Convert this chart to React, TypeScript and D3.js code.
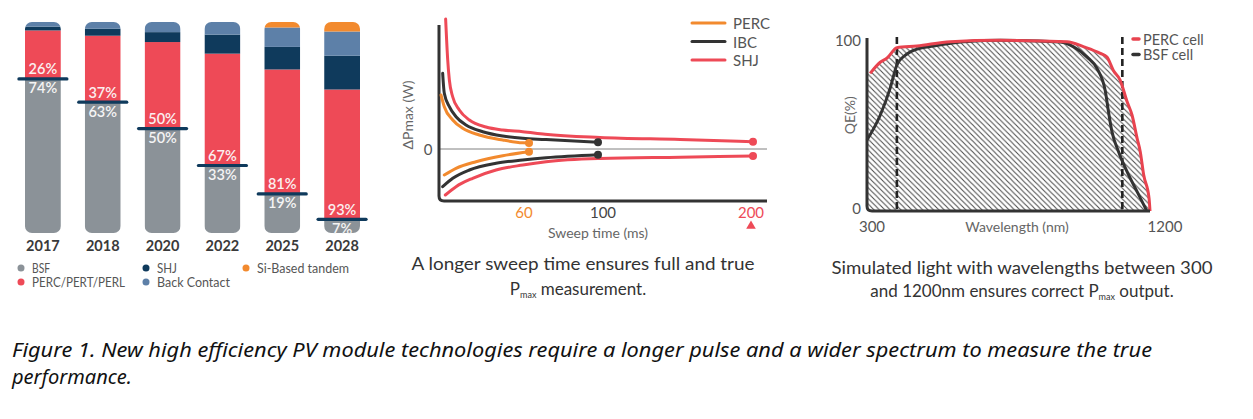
import React from "react";
import * as d3 from "d3";

// ---------- Panel 1: technology market share ----------
const years = ["2017", "2018", "2020", "2022", "2025", "2028"];
const bsf = [73, 62, 49.5, 32, 18.5, 6.5];
const perc = [23, 31.5, 41, 53, 59, 61.5];
const shj = [1.8, 3.3, 4.7, 9, 10.7, 16];
const backContact = [2.2, 3.2, 4.8, 6, 9.2, 11.5];
const tandem = [0, 0, 0, 0, 2.6, 4.5];
const percLabels = ["26%", "37%", "50%", "67%", "81%", "93%"];
const bsfLabels = ["74%", "63%", "50%", "33%", "19%", "7%"];
const techLegend = ["BSF", "SHJ", "Si-Based tandem", "PERC/PERT/PERL", "Back Contact"];

// ---------- Panel 2: sweep time ----------
const sweepTicks = [60, 100, 200];
const percUpper: [number, number][] = [[0.7, 5.4], [2.9, 4.23], [8.6, 2.9], [15.3, 2.07], [26.5, 1.4], [42.3, 0.9], [55.8, 0.62], [60, 0.6]];
const percLower: [number, number][] = [[2.9, -2.6], [10.8, -1.93], [24.3, -1.27], [42.3, -0.67], [60, -0.27]];
const ibcUpper: [number, number][] = [[1.8, 7.57], [2.9, 5.57], [6.3, 4.23], [10.8, 3.23], [17.5, 2.4], [28.8, 1.73], [42.3, 1.3], [55.8, 1.07], [69.3, 0.95], [100, 0.67]];
const ibcLower: [number, number][] = [[1.8, -3.77], [8.6, -2.93], [19.8, -2.1], [37.8, -1.43], [55.8, -1.1], [69.9, -0.87], [100, -0.57]];
const shjUpper: [number, number][] = [[3.8, 13], [5.2, 8.9], [6.3, 6.9], [8.6, 5.2], [13, 3.9], [19.8, 2.9], [31, 2.2], [42.3, 1.9], [55.8, 1.73], [69.3, 1.47], [101.3, 1.15], [153, 0.95], [200, 0.73]];
const shjLower: [number, number][] = [[3.6, -4.6], [10.8, -3.77], [22, -2.93], [37.8, -2.1], [55.8, -1.6], [69.9, -1.27], [101.3, -0.95], [153, -0.82], [200, -0.7]];
const sweepLegend = ["PERC", "IBC", "SHJ"];

// ---------- Panel 3: quantum efficiency ----------
const qeTicks = [0, 100];
const wlTicks = [300, 1200];
const lightBounds = [395, 1112];
const percQE: [number, number][] = [[310, 80.5], [342, 87], [364, 89.5], [395, 95.5], [459, 96.5], [565, 99], [724, 99.8], [936, 99], [990, 96], [1042, 92.2], [1063, 90], [1084, 82], [1105, 76.6], [1127, 64], [1143, 56], [1159, 42.5], [1169, 34.7], [1180, 21], [1197, 7.4], [1200, 0]];
const bsfQE: [number, number][] = [[300, 41.5], [342, 56], [374, 72], [395, 85.4], [422, 91.2], [459, 94.7], [512, 96.5], [618, 99.1], [724, 99.8], [915, 98.8], [957, 96], [1000, 90], [1031, 83.5], [1058, 70], [1068, 58], [1079, 46.4], [1100, 34.7], [1127, 23], [1159, 11.3], [1190, 0]];
const qeLegend = ["PERC cell", "BSF cell"];

const FONT = "Lato, 'Open Sans', sans-serif";
const C = {
  gray: "#8b9298",
  red: "#ee4a57",
  navy: "#0f3a5c",
  blue: "#5d80a8",
  orange: "#f28a2e",
  dark: "#333333",
  text: "#555555",
};

export default function App() {
  // Panel 1
  const rows = years.map((y, i) => ({ year: y, bsf: bsf[i], perc: perc[i], shj: shj[i], bc: backContact[i], tandem: tandem[i] }));
  const keys = ["bsf", "perc", "shj", "bc", "tandem"];
  const segColor: Record<string, string> = { bsf: C.gray, perc: C.red, shj: C.navy, bc: C.blue, tandem: C.orange };
  const series = d3.stack<any>().keys(keys)(rows);
  const xB = d3.scaleBand().domain(years).range([13, 372]).paddingInner(0.4).paddingOuter(0.2);
  const yB = d3.scaleLinear().domain([0, 100]).range([233, 22]);
  const legendColors = [C.gray, C.navy, C.orange, C.red, C.blue];
  const legendWidths = [18, 20, 92, 93, 73];
  const legCols = [21, 146, 246];
  const legRows = [268, 282];

  // Panel 2
  const xS = d3.scaleLinear().domain([0, 60, 100, 200]).range([440, 529, 598, 753]);
  const yS = d3.scaleLinear().domain([-5.2, 12.4]).range([201, 25]);
  const sLine = d3.line<[number, number]>().x(d => xS(d[0])).y(d => yS(d[1])).curve(d3.curveMonotoneX);
  const sweepSeries = [
    { name: "SHJ", color: C.red, upper: shjUpper, lower: shjLower },
    { name: "IBC", color: C.dark, upper: ibcUpper, lower: ibcLower },
    { name: "PERC", color: C.orange, upper: percUpper, lower: percLower },
  ];
  const sweepLegColors = [C.orange, C.dark, C.red];
  const tickColors = [C.orange, "#444", C.red];
  const ax2 = xS(0) - 1;
  const ay2Bottom = yS(-5.2);

  // Panel 3
  const xQ = d3.scaleLinear().domain([300, 1200]).range([867, 1150]);
  const yQ = d3.scaleLinear().domain([0, 100]).range([211, 40]);
  const qLine = d3.line<[number, number]>().x(d => xQ(d[0])).y(d => yQ(d[1])).curve(d3.curveMonotoneX);
  const hatchData: [number, number][] = [[300, percQE[0][1]], ...percQE];
  const qArea = d3.area<[number, number]>().x(d => xQ(d[0])).y0(yQ(0)).y1(d => yQ(d[1])).curve(d3.curveMonotoneX);
  const ax3 = xQ(300);
  const ay3 = yQ(0);

  return (
    <svg width={1253} height={419} style={{ position: "absolute", left: 0, top: 0, background: "#fff" }} fontFamily={FONT}>
      <defs>
        {years.map((y, i) => (
          <clipPath id={`bar-${i}`} key={y}>
            <rect x={xB(y)} y={yB(100)} width={xB.bandwidth()} height={yB(0) - yB(100)} rx={7} />
          </clipPath>
        ))}
        <pattern id="hatch" patternUnits="userSpaceOnUse" width={5.4} height={5.4}>
          <path d="M-1,-1 L6.4,6.4 M-1,4.4 L1,6.4 M4.4,-1 L6.4,1" stroke="#4a4a4a" strokeWidth={1.05} />
        </pattern>
      </defs>
      <rect x={0} y={0} width={1253} height={419} fill="#fff" />

      {/* ---------- Panel 1 ---------- */}
      {years.map((y, i) => (
        <g key={y} clipPath={`url(#bar-${i})`}>
          {series.map(s => (
            <rect key={s.key} x={xB(y)} width={xB.bandwidth()} y={yB(s[i][1])} height={Math.max(0, yB(s[i][0]) - yB(s[i][1]))} fill={segColor[s.key]} />
          ))}
        </g>
      ))}
      {years.map((y, i) => {
        const cx = (xB(y) as number) + xB.bandwidth() / 2;
        const ly = yB(bsf[i]);
        return (
          <g key={"lbl" + y}>
            <line x1={cx - 24} x2={cx + 24} y1={ly} y2={ly} stroke={C.navy} strokeWidth={3.2} strokeLinecap="round" />
            <text x={cx} y={ly - 10} textAnchor="middle" dominantBaseline="central" fontSize={14.5} fontWeight={600} fill="#fbeff0">{percLabels[i]}</text>
            <text x={cx} y={ly + 9} textAnchor="middle" dominantBaseline="central" fontSize={14.5} fontWeight={600} fill="#f4f4f4">{bsfLabels[i]}</text>
            <text x={cx} y={245} textAnchor="middle" dominantBaseline="central" fontSize={14.5} fontWeight={700} fill="#3a3a3a">{y}</text>
          </g>
        );
      })}
      {techLegend.map((t, i) => {
        const col = i < 3 ? i : i - 3;
        const row = i < 3 ? 0 : 1;
        return (
          <g key={t}>
            <circle cx={legCols[col]} cy={legRows[row]} r={3.5} fill={legendColors[i]} />
            <text x={legCols[col] + 11} y={legRows[row]} dominantBaseline="central" fontSize={13} fill={C.text} textLength={legendWidths[i]} lengthAdjust="spacingAndGlyphs">{t}</text>
          </g>
        );
      })}

      {/* ---------- Panel 2 ---------- */}
      <line x1={ax2} x2={767} y1={yS(0)} y2={yS(0)} stroke="#808080" strokeWidth={1} />
      <path d={`M${ax2},${yS(12.4)} V${ay2Bottom - 5} Q${ax2},${ay2Bottom} ${ax2 + 5},${ay2Bottom} H767`} fill="none" stroke={C.dark} strokeWidth={3} />
      {sweepSeries.map(s => (
        <g key={s.name}>
          <path d={sLine(s.upper) || ""} fill="none" stroke={s.color} strokeWidth={3} strokeLinecap="round" />
          <path d={sLine(s.lower) || ""} fill="none" stroke={s.color} strokeWidth={3} strokeLinecap="round" />
          <circle cx={xS(s.upper[s.upper.length - 1][0])} cy={yS(s.upper[s.upper.length - 1][1])} r={4} fill={s.color} />
          <circle cx={xS(s.lower[s.lower.length - 1][0])} cy={yS(s.lower[s.lower.length - 1][1])} r={4} fill={s.color} />
        </g>
      ))}
      <text x={428} y={yS(0)} textAnchor="middle" dominantBaseline="central" fontSize={15} fill={C.text}>0</text>
      <text transform={`translate(407,${yS(3.4)}) rotate(-90)`} textAnchor="middle" dominantBaseline="central" fontSize={14} fill="#666">ΔPmax (W)</text>
      {sweepTicks.map((t, i) => (
        <text key={t} x={xS(t) + (i === 0 ? -5 : i === 1 ? 5 : -2)} y={212} textAnchor="middle" dominantBaseline="central" fontSize={15} fill={tickColors[i]}>{t}</text>
      ))}
      <path d={d3.symbol().type(d3.symbolTriangle).size(40)() || ""} transform={`translate(${xS(200) - 2},226)`} fill={C.red} />
      <text x={598} y={232} textAnchor="middle" dominantBaseline="central" fontSize={14} fill="#666">Sweep time (ms)</text>
      {sweepLegend.map((t, i) => (
        <g key={t}>
          <line x1={692} x2={725} y1={23 + i * 18.5} y2={23 + i * 18.5} stroke={sweepLegColors[i]} strokeWidth={3} strokeLinecap="round" />
          <text x={733} y={23 + i * 18.5} dominantBaseline="central" fontSize={15} fill={C.text}>{t}</text>
        </g>
      ))}
      <text x={583} y={263} textAnchor="middle" dominantBaseline="central" fontSize={17} fill="#333" textLength={343} lengthAdjust="spacingAndGlyphs">A longer sweep time ensures full and true</text>
      <text x={578} y={288} textAnchor="middle" dominantBaseline="central" fontSize={17} fill="#333">
        P<tspan fontSize={9} dy={6}>max</tspan><tspan dy={-6}> measurement.</tspan>
      </text>

      {/* ---------- Panel 3 ---------- */}
      <path d={qArea(hatchData) || ""} fill="url(#hatch)" />
      {lightBounds.map(b => (
        <line key={b} x1={xQ(b)} x2={xQ(b)} y1={37} y2={ay3} stroke="#222" strokeWidth={2.6} strokeDasharray="7,4" />
      ))}
      <path d={qLine(bsfQE) || ""} fill="none" stroke={C.dark} strokeWidth={3} strokeLinejoin="round" />
      <path d={qLine(percQE) || ""} fill="none" stroke="#e8434f" strokeWidth={3} strokeLinejoin="round" />
      <path d={`M${ax3},${yQ(100) - 2} V${ay3 - 5} Q${ax3},${ay3} ${ax3 + 5},${ay3} H${xQ(1200)}`} fill="none" stroke={C.dark} strokeWidth={3} />
      {qeTicks.map(t => (
        <text key={t} x={861} y={yQ(t) - (t === 0 ? 3 : 0)} textAnchor="end" dominantBaseline="central" fontSize={15} fill={C.text}>{t}</text>
      ))}
      {wlTicks.map((t, i) => (
        <text key={t} x={xQ(t) + (i === 0 ? 5 : 15)} y={226} textAnchor="middle" dominantBaseline="central" fontSize={15} fill={C.text}>{t}</text>
      ))}
      <text x={1017} y={226} textAnchor="middle" dominantBaseline="central" fontSize={14} fill="#666">Wavelength (nm)</text>
      <text transform={`translate(849,${yQ(56)}) rotate(-90)`} textAnchor="middle" dominantBaseline="central" fontSize={14} fill="#666">QE(%)</text>
      {qeLegend.map((t, i) => (
        <g key={t}>
          <line x1={1133} x2={1139} y1={39 + i * 15.5} y2={39 + i * 15.5} stroke={i === 0 ? "#e8434f" : C.dark} strokeWidth={3.5} strokeLinecap="round" />
          <text x={1143} y={39 + i * 15.5} dominantBaseline="central" fontSize={14.5} fill={C.text}>{t}</text>
        </g>
      ))}
      <text x={1022} y={267} textAnchor="middle" dominantBaseline="central" fontSize={17} fill="#333" textLength={381} lengthAdjust="spacingAndGlyphs">Simulated light with wavelengths between 300</text>
      <text x={1022} y={290} textAnchor="middle" dominantBaseline="central" fontSize={17} fill="#333">
        and 1200nm ensures correct P<tspan fontSize={9} dy={6}>max</tspan><tspan dy={-6}> output.</tspan>
      </text>

      {/* ---------- Figure caption ---------- */}
      <text x={12} y={357} fontSize={19} fontStyle="italic" fill="#111" fontFamily="'Noto Sans', 'Liberation Sans', sans-serif" textLength={1140} lengthAdjust="spacingAndGlyphs">
        Figure 1. New high efficiency PV module technologies require a longer pulse and a wider spectrum to measure the true
      </text>
      <text x={12} y={384} fontSize={19} fontStyle="italic" fill="#111" fontFamily="'Noto Sans', 'Liberation Sans', sans-serif" textLength={120} lengthAdjust="spacingAndGlyphs">
        performance.
      </text>
    </svg>
  );
}
